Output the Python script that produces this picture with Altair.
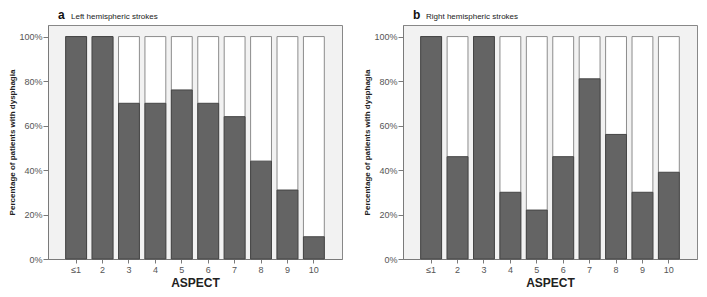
import altair as alt
import pandas as pd

categories = ["≤1", "2", "3", "4", "5", "6", "7", "8", "9", "10"]
left_values = [100, 100, 70, 70, 76, 70, 64, 44, 31, 10]
right_values = [100, 46, 100, 30, 22, 46, 81, 56, 30, 39]
panel_letters = ["a", "b"]
panel_titles = ["Left hemispheric strokes", "Right hemispheric strokes"]
y_ticks = [0, 20, 40, 60, 80, 100]

FONT = "Liberation Sans"
W = 294
H = 234
YMAX = 105.2


def panel(values, letter, title):
    df = pd.DataFrame({"ASPECT": categories, "pct": values, "full": [100] * len(categories)})
    x = alt.X(
        "ASPECT:N",
        sort=categories,
        scale=alt.Scale(paddingInner=0.21, paddingOuter=0.67),
        axis=alt.Axis(
            title="ASPECT", labelAngle=0, tickSize=4, labelFontSize=9, labelPadding=2,
            labelColor="#555555", labelFont=FONT, titleFont=FONT, titleFontSize=12,
            titleFontWeight="bold", titleColor="#222222", titlePadding=3,
            domainColor="#7a7a7a", tickColor="#7a7a7a",
        ),
    )
    yscale = alt.Scale(domain=[0, YMAX], nice=False, zero=True)
    yaxis = alt.Axis(
        title="Percentage of patients with dysphagia", values=y_ticks,
        labelExpr="datum.value + '%'", tickSize=5, labelFontSize=9, labelPadding=1,
        labelColor="#555555", labelFont=FONT, titleFont=FONT, titleFontSize=8,
        titleFontWeight="bold", titleColor="#222222", titlePadding=2,
        domainColor="#7a7a7a", tickColor="#7a7a7a", grid=False,
    )
    white = alt.Chart(df).mark_bar(fill="white", stroke="#8c8c8c", strokeWidth=1).encode(
        x=x, y=alt.Y("full:Q", scale=yscale, axis=yaxis)
    )
    dark = alt.Chart(df).mark_bar(fill="#646464", stroke="#454545", strokeWidth=1).encode(
        x=x, y=alt.Y("pct:Q", scale=yscale, axis=yaxis)
    )
    tdf = pd.DataFrame({"letter": [letter], "title": [title]})
    let = alt.Chart(tdf).mark_text(
        font=FONT, fontSize=12, fontWeight="bold", align="left", baseline="alphabetic", color="#111111"
    ).encode(x=alt.value(10), y=alt.value(-6), text="letter:N")
    tit = alt.Chart(tdf).mark_text(
        font=FONT, fontSize=8, align="left", baseline="alphabetic", color="#222222"
    ).encode(x=alt.value(23), y=alt.value(-6), text="title:N")
    return alt.layer(white, dark, let, tit).properties(width=W, height=H)


chart = alt.hconcat(
    panel(left_values, panel_letters[0], panel_titles[0]),
    panel(right_values, panel_letters[1], panel_titles[1]),
    spacing=20,
).properties(padding=0).configure_view(fill="#f2f2f2", stroke="#888888", strokeWidth=1)

chart.save("out.html", embed_options={"renderer": "svg", "actions": False})
